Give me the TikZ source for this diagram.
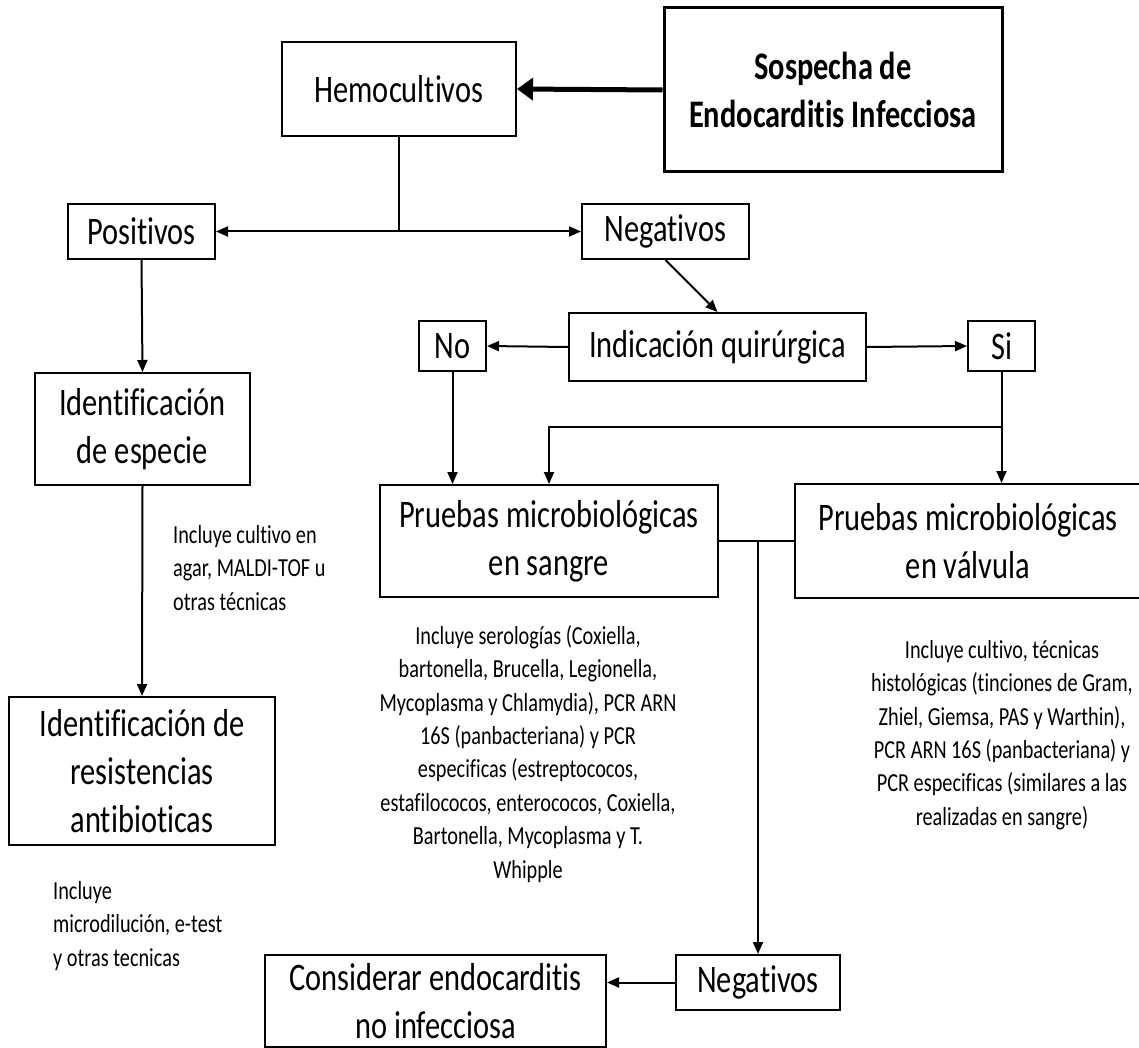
\documentclass[tikz,border=0pt]{standalone}
\usepackage{fontspec}
\setmainfont{Carlito}[FakeStretch=0.78, Ligatures=NoCommon]
\usetikzlibrary{arrows.meta}

\begin{document}
\begin{tikzpicture}[x=1pt,y=-1pt,
    caja/.style={draw, line width=2pt, align=center, inner sep=0pt,
      font=\fontsize{39}{48}\selectfont},
    nota/.style={align=center, inner sep=0pt,
      font=\fontsize{26}{33.4}\selectfont},
    flecha/.style={line width=2pt, -{Triangle[length=12pt,width=10pt]}},
    linea/.style={line width=2pt}]
    \def\W{1139}
    \def\H{1048}
    \useasboundingbox (0,0) rectangle (\W,\H);

    % cajas principales
    \node[caja, line width=3pt, minimum width=338pt, minimum height=164pt,
      font=\fontsize{39}{48}\selectfont\bfseries] (sosp) at (833,90)
      {Sospecha de\\Endocarditis Infecciosa};
    \node[caja, minimum width=234pt, minimum height=94pt] (hemo) at (399,89) {Hemocultivos};
    \node[caja, minimum width=147pt, minimum height=55pt] (pos) at (141.5,231.5) {Positivos};
    \node[caja, minimum width=167pt, minimum height=55pt] (neg) at (665.5,231.5) {Negativos};
    \node[caja, minimum width=297pt, minimum height=68pt] (indic) at (717.5,347) {Indicación quirúrgica};
    \node[caja, minimum width=67pt, minimum height=50pt] (no) at (452.5,346) {No};
    \node[caja, minimum width=67pt, minimum height=50pt] (si) at (1001.5,346) {Si};
    \node[caja, minimum width=215pt, minimum height=112pt] (espec) at (142.5,429)
      {Identificación\\de especie};
    \node[caja, minimum width=338pt, minimum height=112pt] (sangre) at (549,541)
      {Pruebas microbiológicas\\en sangre};
    \node[caja, minimum width=346pt, minimum height=114pt] (valv) at (968,541)
      {Pruebas microbiológicas\\en válvula};
    \node[caja, minimum width=266pt, minimum height=148pt] (resist) at (142,771)
      {Identificación de\\resistencias\\antibioticas};
    \node[caja, minimum width=164pt, minimum height=55pt] (neg2) at (758,982.5) {Negativos};
    \node[caja, minimum width=341pt, minimum height=92pt] (consid) at (435.5,1001)
      {Considerar endocarditis\\no infecciosa};

    % notas
    \node[nota, align=left, anchor=north west] (nespec) at (173,525)
      {Incluye cultivo en\\agar, MALDI-TOF u\\otras técnicas};
    \node[nota, align=left, anchor=north west] (nresist) at (53,881)
      {Incluye\\microdilución, e-test\\y otras tecnicas};
    \node[nota, anchor=north] (nsangre) at (528,625)
      {Incluye serologías (Coxiella,\\bartonella, Brucella, Legionella,\\Mycoplasma y Chlamydia), PCR ARN\\16S (panbacteriana) y PCR\\especificas (estreptococos,\\estafilococos, enterococos, Coxiella,\\Bartonella, Mycoplasma y T.\\Whipple};
    \node[nota, anchor=north] (nvalv) at (1002,640)
      {Incluye cultivo, técnicas\\histológicas (tinciones de Gram,\\Zhiel, Giemsa, PAS y Warthin),\\PCR ARN 16S (panbacteriana) y\\PCR especificas (similares a las\\realizadas en sangre)};

    % conectores
    \draw[line width=5pt, -{Triangle[length=16pt,width=22pt]}] (sosp.west) -- (hemo.east);
    \coordinate (ramal) at (hemo.south |- pos.east);
    \draw[linea] (hemo.south) -- (ramal);
    \draw[flecha] (ramal) -- (pos.east);
    \draw[flecha] (ramal) -- (neg.west);
    \draw[flecha] (neg.south) -- (indic.north);
    \draw[flecha] (indic.west) -- (no.east);
    \draw[flecha] (indic.east) -- (si.west);
    \draw[flecha] (pos.south) -- (espec.north);
    \draw[flecha] (espec.south) -- (resist.north);
    \draw[flecha] (no.south) -- (no.south |- sangre.north);
    \coordinate (bif) at (si.south |- 0,427);
    \draw[linea] (si.south) -- (bif);
    \draw[flecha] (bif) -- (bif |- valv.north);
    \draw[flecha] (bif) -| (sangre.north);
    \draw[linea] (sangre.east) -- (valv.west);
    \coordinate (union) at (neg2.north |- sangre.east);
    \draw[flecha] (union) -- (neg2.north);
    \draw[flecha] (neg2.west) -- (neg2.west -| consid.east);
\end{tikzpicture}
\end{document}
